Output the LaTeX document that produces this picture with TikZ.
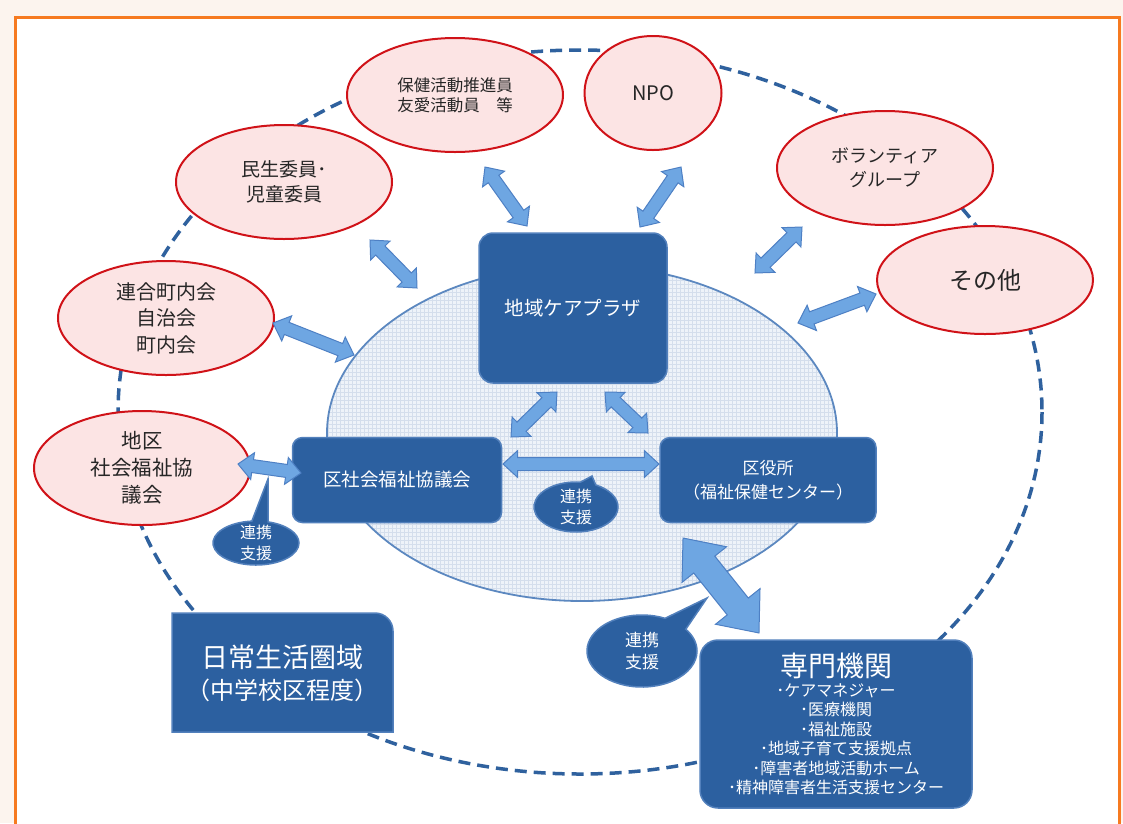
\documentclass[tikz,border=0pt]{standalone}
\usepackage{fontspec}
\newfontfamily\jpfont{Noto Sans CJK JP}
\usetikzlibrary{shapes.geometric,shapes.arrows,shapes.callouts,calc}

\definecolor{framepeach}{RGB}{252,244,238}
\definecolor{frameorange}{RGB}{246,122,32}
\definecolor{ringblue}{RGB}{47,97,158}
\definecolor{boxblue}{RGB}{44,96,160}
\definecolor{boxedge}{RGB}{82,128,188}
\definecolor{pinkfill}{RGB}{252,228,228}
\definecolor{redline}{RGB}{208,18,24}
\definecolor{arrowfill}{RGB}{110,166,226}
\definecolor{arrowedge}{RGB}{78,128,196}
\definecolor{zonefill}{RGB}{238,243,249}
\definecolor{zonegrid}{RGB}{212,222,236}
\definecolor{zoneedge}{RGB}{92,136,192}

\newcommand\jpsize[2]{\jpfont\fontsize{#1}{#2}\selectfont}
\newcommand\linkarrow[3][]{% double block arrow from #2 to #3
  \path let \p1=($(#3)-(#2)$), \n1={veclen(\x1,\y1)}, \n2={atan2(\y1,\x1)} in
    node[linkarr,#1,minimum height=\n1,rotate=\n2] at ($(#2)!0.5!(#3)$) {};}

\begin{document}
\begin{tikzpicture}[x=1pt, y=-1pt,
    member/.style={ellipse, draw=redline, line width=2pt, fill=pinkfill, inner sep=0pt,
        minimum width=216pt, minimum height=114pt, align=center, text=black!85},
    office/.style={rectangle, draw=boxedge, line width=1.5pt, fill=boxblue, rounded corners=14pt,
        inner sep=0pt, align=center, text=white},
    linkarr/.style={double arrow, draw=arrowedge, fill=arrowfill, line width=1pt, inner sep=6pt,
        double arrow head extend=7pt, double arrow tip angle=85},
    note/.style={ellipse callout, draw=boxedge, fill=boxblue, line width=1.5pt, inner xsep=0pt,
        inner ysep=-5pt, callout pointer arc=22, align=center, text=white, font=\jpsize{16}{21}}]
    \useasboundingbox (0,0) rectangle (1123,823);
    \fill[framepeach] (0,0) rectangle (1123,823);
    \filldraw[fill=white, draw=frameorange, line width=3pt] (15,17) rectangle (1119,850);

    % daily life area
    \draw[ringblue, line width=3.5pt, dash pattern=on 12pt off 7pt] (580,412) ellipse [x radius=462, y radius=362];

    % centre zone
    \fill[zonefill] (582,433) ellipse [x radius=255, y radius=168];
    \begin{scope}
        \clip (582,433) ellipse [x radius=255, y radius=168];
        \draw[zonegrid, line width=0.4pt, step=4pt] (320,610) grid (840,260);
    \end{scope}
    \draw[zoneedge, line width=1.8pt] (582,433) ellipse [x radius=255, y radius=168];

    \node[member, font=\jpsize{16.5}{20}] (hoken) at (455,95) {保健活動推進員\\友愛活動員　等};
    \node[member, minimum width=137pt, font=\jpsize{20}{24}] (npo) at (653,93) {NPO};
    \node[member, font=\jpsize{19}{25}] (minsei) at (284,182) {民生委員･\\児童委員};
    \node[member, font=\jpsize{18}{24}] (volunteer) at (885,168) {ボランティア\\グループ};
    \node[member, minimum height=108pt, font=\jpsize{24}{28}] (sonota) at (985,280) {その他};
    \node[member, font=\jpsize{20}{26.5}] (chonai) at (166,318) {連合町内会\\自治会\\町内会};
    \node[member, font=\jpsize{20.5}{27}] (chiku) at (142,468) {地区\\社会福祉協\\議会};

    \filldraw[fill=boxblue, draw=boxedge, line width=1.5pt] (172,732) -- (172,613) -- (375,613)
        arc[start angle=90, end angle=0, radius=18pt] -- (393,732) -- cycle;
    \node[align=center, text=white, font=\jpsize{27}{32}] (area) at (282,673)
        {日常生活圏域\\{\jpsize{24}{32}（中学校区程度）}};

    \node[office, minimum width=188pt, minimum height=150pt, font=\jpsize{19.5}{24}] (plaza) at (573,308) {地域ケアプラザ};
    \node[office, minimum width=209pt, minimum height=85pt, rounded corners=10pt, font=\jpsize{18.5}{24}] (shakyo) at (397,480) {区社会福祉協議会};
    \node[office, minimum width=216pt, minimum height=85pt, rounded corners=10pt, font=\jpsize{17}{24}] (kuyakusho) at (768,480) {区役所\\（福祉保健センター）};
    \node[office, minimum width=272pt, minimum height=168pt, rounded corners=18pt, font=\jpsize{16}{19.5}] (senmon) at (836,724)
        {{\jpsize{28}{30}専門機関}\\[0pt]･ケアマネジャー\\･医療機関\\･福祉施設\\･地域子育て支援拠点\\･障害者地域活動ホーム\\･精神障害者生活支援センター};

    % arrow ends
    \coordinate (minseiA) at (370,240);   \coordinate (minseiB) at (417,288);
    \coordinate (hokenA) at (485,167);    \coordinate (hokenB) at (527,226);
    \coordinate (npoA) at (681,167);      \coordinate (npoB) at (640,227);
    \coordinate (volA) at (802,227);      \coordinate (volB) at (755,273);
    \coordinate (sonotaA) at (876,294);   \coordinate (sonotaB) at (798,323);
    \coordinate (chonaiA) at (273,323);   \coordinate (chonaiB) at (354,355);
    \coordinate (chikuA) at (238,464);    \coordinate (chikuB) at (301,473);
    \coordinate (plazaL) at (557,392);    \coordinate (shakyoT) at (511,437);
    \coordinate (plazaR) at (605,392);    \coordinate (kuyakushoT) at (648,433);
    \coordinate (shakyoR) at (503,464);   \coordinate (kuyakushoL) at (659,464);
    \coordinate (kuyakushoB) at (683,538); \coordinate (senmonT) at (759,633);

    \linkarrow{minseiA}{minseiB}
    \linkarrow{hokenA}{hokenB}
    \linkarrow{npoA}{npoB}
    \linkarrow{volA}{volB}
    \linkarrow{sonotaA}{sonotaB}
    \linkarrow{chonaiA}{chonaiB}
    \linkarrow{chikuA}{chikuB}
    \linkarrow{plazaL}{shakyoT}
    \linkarrow{plazaR}{kuyakushoT}
    \linkarrow{shakyoR}{kuyakushoL}
    \linkarrow[inner sep=13pt, double arrow head extend=15pt, double arrow tip angle=80]{kuyakushoB}{senmonT}

    \node[note, minimum width=86pt, minimum height=44pt, callout absolute pointer={(268,479)}] (noteL) at (256,543) {連携\\支援};
    \node[note, minimum width=84pt, minimum height=50pt, callout absolute pointer={(592,476)}] (noteM) at (576,507) {連携\\支援};
    \node[note, minimum width=110pt, minimum height=72pt, callout pointer arc=28, font=\jpsize{17}{22},
        callout absolute pointer={(707,598)}] (noteB) at (642,651) {連携\\支援};
\end{tikzpicture}
\end{document}
